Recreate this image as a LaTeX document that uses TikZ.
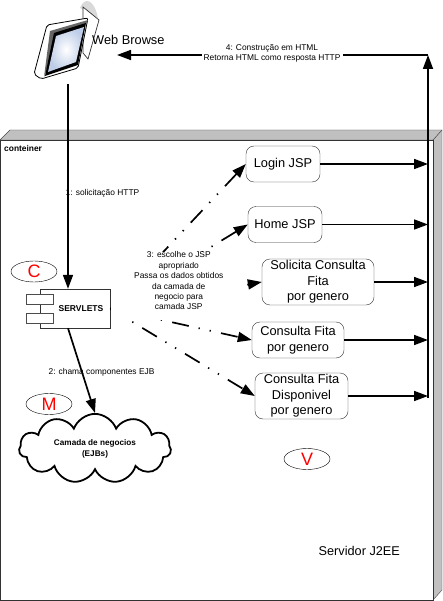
\documentclass[tikz,border=0pt]{standalone}
\usepackage{fontspec}
\setmainfont{Liberation Sans}
\usepackage{xcolor}
\definecolor{shelfgray}{RGB}{192,192,192}
\definecolor{screenblue}{RGB}{190,205,232}
\usetikzlibrary{shapes.geometric, shapes.symbols, arrows.meta, positioning, calc}

\begin{document}
\begin{tikzpicture}[x=1pt, y=-1pt,
  page/.style={rectangle, rounded corners=8pt, draw=black!80, fill=white, align=center, font=\fontsize{12.8}{15.5}\selectfont, inner sep=0pt},
  mvc/.style={ellipse, draw=black, fill=white, minimum width=46pt, minimum height=21pt, inner sep=0pt, text=red, font=\fontsize{18}{18}\selectfont},
  lbl/.style={align=center, inner sep=0pt, font=\fontsize{8.4}{10.4}\selectfont},
  port/.style={rectangle, draw=black!70, fill=white, line width=0.9pt, minimum width=27pt, minimum height=10pt, inner sep=0pt},
  arr/.style={-{Triangle[length=14pt, width=10pt]}, line width=1.7pt, black},
  dasharr/.style={arr, dash pattern=on 17pt off 10pt on 1.3pt off 10pt on 1.3pt off 10.4pt}
]
\useasboundingbox (0,0) rectangle (442,601);

% server box
\draw[black!70, fill=shelfgray] (0,140) -- (10,130) -- (442,130) -- (442,590) -- (433,600) -- (433,140) -- cycle;
\draw[black!80, fill=white, line width=0.8pt] (0.5,140) rectangle (433,600.5);
\draw[black!80] (433,140) -- (442,130);
\node[inner sep=0pt, anchor=west, font=\bfseries\fontsize{8.4}{10}\selectfont] (cont) at (4,148) {conteiner};
\node[inner sep=0pt, anchor=west, font=\fontsize{12.7}{14}\selectfont] (j2ee) at (318.5,551) {Servidor J2EE};

% browser icon
\fill[black!15] (80,8) .. controls (84,-3) and (94,-2) .. (98,18) -- (90,14) -- cycle;
\draw[black!80, fill=white, line width=0.7pt] (83,7) -- (99,20) -- (88,59) -- (83,53) -- cycle;
\draw[black, fill=white, line width=0.8pt, rounded corners=2pt] (47,25) -- (88,18) -- (78,68) -- (41,79) -- (34,74) -- cycle;
\fill[black!60] (50,31) -- (88,20) -- (86,24) -- (55,34) -- (46,72) -- (44,77) -- cycle;
\fill[black] (54,33) -- (86,23) -- (78,65) -- (45,76) -- cycle;
\shade[inner color=white, outer color=screenblue] (56,36) -- (84,27) -- (76,62) -- (48,72) -- cycle;
\node[inner sep=0pt, anchor=west, font=\fontsize{12.8}{14}\selectfont] (web) at (92,40) {Web Browse};

% nodes of the view
\node[page, minimum width=74pt, minimum height=36pt] (login) at (283,164) {Login JSP};
\node[page, minimum width=74pt, minimum height=36pt] (home) at (285,224.5) {Home JSP};
\node[page, minimum width=112pt, minimum height=46pt] (solicita) at (318,282) {Solicita Consulta\\Fita\\por genero};
\node[page, minimum width=92pt, minimum height=36pt] (consulta) at (298,340) {Consulta Fita\\por genero};
\node[page, minimum width=93pt, minimum height=46pt] (disp) at (301.5,396) {Consulta Fita\\Disponivel\\por genero};

% servlets
\node[rectangle, draw=black!80, fill=white, minimum width=70pt, minimum height=39pt, inner sep=0pt, font=\bfseries\fontsize{8.5}{10}\selectfont] (serv) at (75,308.5) {\hspace*{12pt}SERVLETS};
\node[port] (port1) at (39.5,299) {};
\node[port] (port2) at (39.5,318) {};

% cloud
\node[cloud, cloud puffs=11, cloud puff arc=140, aspect=2.4, draw=black, line width=1.8pt, fill=white, minimum width=152pt, minimum height=63pt, inner sep=0pt, align=center, font=\bfseries\fontsize{8.2}{10.8}\selectfont] (ejb) at (95,448.5) {Camada de negocios\\(EJBs)};

% ellipses
\node[mvc] (c) at (34,271.5) {C};
\node[mvc] (m) at (49,404) {M};
\node[mvc] (v) at (307,459) {V};

% labels under the lines
\node[lbl] (l1) at (102.5,193) {1: solicitação HTTP};
\node[lbl] (l2) at (101.5,372.5) {2: chama componentes EJB};

% return bus
\coordinate (bustop) at (428,55);
\coordinate (busend) at (428,398);
\coordinate (browser) at (117,55);
\coordinate (tobrowser) at (68,84);
\coordinate (sv1) at ($(serv.north)+(-7,0)$);
\coordinate (sv2) at ($(serv.south)+(-7,0)$);
\draw[arr] (busend) -- (bustop);
\draw[arr] (bustop) -- (browser);
\draw[arr] (tobrowser) -- (sv1);
\draw[arr] (sv2) -- (ejb.north);

\draw[arr] (login.east) -- (bustop |- login);
\draw[arr] (home.east) -- (bustop |- home);
\draw[arr] (solicita.east) -- (bustop |- solicita);
\draw[arr] (consulta.east) -- (bustop |- consulta);
\draw[arr] (disp.east) -- (bustop |- disp);

% dispatch lines
\draw[dasharr, dash phase=32.2pt] (serv.east) -- (login.west);
\draw[dasharr, dash phase=19.6pt] (serv.east) -- (home.west);
\draw[dasharr] (serv.east) -- (solicita.west);
\draw[dasharr, dash phase=36.5pt] (serv.east) -- (consulta.west);
\draw[dasharr, dash phase=12.5pt] (serv.east) -- (disp.west);

% labels over the lines
\node[lbl, fill=white, minimum width=141pt] (l4) at (272,53.5) {4: Construção em HTML\\Retorna HTML como resposta HTTP};
\node[lbl, fill=white, minimum width=136pt] (l3) at (178.8,286) {3: escolhe o JSP\\apropriado\\Passa os dados obtidos\\da camada de\\negocio para\\camada JSP\\\mbox{}};
\end{tikzpicture}
\end{document}
